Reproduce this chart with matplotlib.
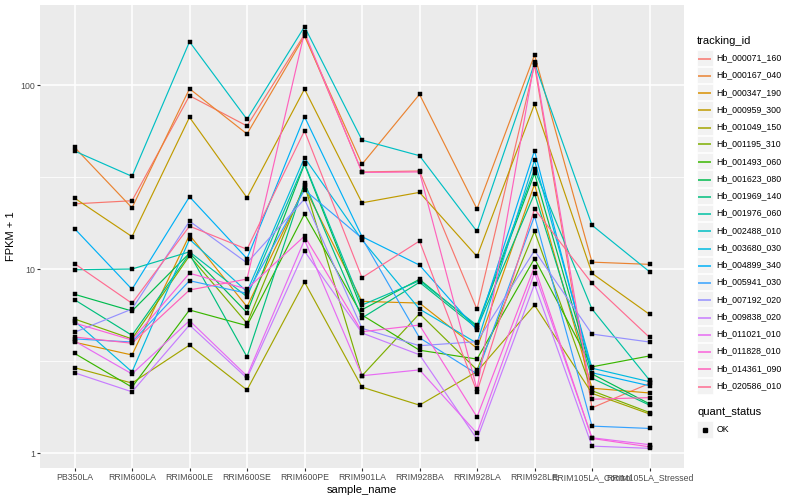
import matplotlib
matplotlib.use("Agg")
import matplotlib.pyplot as plt
from matplotlib.lines import Line2D
from matplotlib.patches import Rectangle
from matplotlib.ticker import FixedLocator, FixedFormatter, NullFormatter
import numpy as np

plt.rcParams['font.family'] = ['Liberation Sans', 'DejaVu Sans']

# samples on the x axis
samples = ['PB350LA', 'RRIM600LA', 'RRIM600LE', 'RRIM600SE', 'RRIM600PE',
           'RRIM901LA', 'RRIM928BA', 'RRIM928LA', 'RRIM928LE',
           'RRIM105LA_Control', 'RRIM105LA_Stressed']

# FPKM + 1 per gene, in sample order
hb_000071_160 = [22.6, 23.5, 87.5, 59.9, 188.6, 33.7, 34.1, 6.04, 128.4, 1.76, 2.39]
hb_000167_040 = [45.9, 21.5, 95.5, 54.2, 184.6, 37.1, 89.0, 21.2, 145.6, 10.9, 10.6]
hb_000347_190 = [4.00, 3.41, 15.3, 6.24, 27.8, 6.67, 6.53, 3.71, 28.9, 2.25, 2.12]
hb_000959_300 = [24.3, 15.0, 66.8, 24.4, 95.1, 22.9, 26.1, 11.7, 78.6, 9.48, 5.67]
hb_001049_150 = [2.91, 2.40, 3.86, 2.20, 8.50, 2.28, 1.82, 2.77, 6.37, 2.11, 1.63]
hb_001195_310 = [5.35, 4.17, 11.8, 5.07, 28.6, 2.63, 5.72, 2.83, 16.0, 2.18, 1.66]
hb_001493_060 = [3.48, 2.28, 5.99, 4.92, 19.9, 5.62, 3.62, 3.24, 11.4, 2.94, 3.37]
hb_001623_080 = [7.29, 5.91, 12.2, 5.79, 37.1, 6.01, 8.79, 4.86, 33.1, 2.69, 1.85]
hb_001969_140 = [6.81, 4.36, 12.1, 3.33, 29.4, 5.42, 8.47, 4.76, 25.7, 2.55, 1.82]
hb_001976_060 = [9.91, 10.0, 12.4, 7.07, 37.5, 6.37, 8.64, 4.94, 34.8, 6.06, 2.49]
hb_002488_010 = [43.8, 31.9, 171.9, 65.1, 207.5, 50.2, 41.3, 16.0, 131.2, 17.3, 9.67]
hb_003680_030 = [5.22, 2.76, 14.5, 7.53, 40.3, 14.4, 6.06, 3.95, 39.0, 2.89, 2.44]
hb_004899_340 = [16.6, 7.76, 24.7, 11.4, 67.3, 15.0, 10.5, 4.66, 44.0, 2.73, 2.32]
hb_005941_030 = [4.17, 4.01, 8.64, 7.38, 26.9, 14.7, 4.23, 2.69, 19.4, 1.40, 1.36]
hb_007192_020 = [4.53, 6.06, 18.2, 10.8, 24.0, 4.76, 3.83, 4.03, 12.6, 4.43, 4.01]
hb_009838_020 = [2.73, 2.15, 4.96, 2.55, 12.5, 4.49, 3.42, 1.19, 8.26, 1.09, 1.06]
hb_011021_010 = [4.06, 2.69, 5.24, 2.62, 14.4, 2.63, 2.83, 1.28, 9.55, 1.21, 1.11]
hb_011828_010 = [5.09, 4.11, 9.48, 7.79, 15.1, 4.56, 4.96, 1.57, 10.3, 1.20, 1.08]
hb_014361_090 = [4.27, 3.95, 7.69, 8.82, 193.4, 33.5, 33.7, 2.22, 133.9, 1.96, 2.00]
hb_020586_010 = [10.7, 6.51, 17.1, 12.8, 56.4, 8.97, 14.2, 2.15, 21.2, 8.36, 4.25]

gene_ids = ['Hb_000071_160', 'Hb_000167_040', 'Hb_000347_190', 'Hb_000959_300',
            'Hb_001049_150', 'Hb_001195_310', 'Hb_001493_060', 'Hb_001623_080',
            'Hb_001969_140', 'Hb_001976_060', 'Hb_002488_010', 'Hb_003680_030',
            'Hb_004899_340', 'Hb_005941_030', 'Hb_007192_020', 'Hb_009838_020',
            'Hb_011021_010', 'Hb_011828_010', 'Hb_014361_090', 'Hb_020586_010']

series = [hb_000071_160, hb_000167_040, hb_000347_190, hb_000959_300,
          hb_001049_150, hb_001195_310, hb_001493_060, hb_001623_080,
          hb_001969_140, hb_001976_060, hb_002488_010, hb_003680_030,
          hb_004899_340, hb_005941_030, hb_007192_020, hb_009838_020,
          hb_011021_010, hb_011828_010, hb_014361_090, hb_020586_010]

# ggplot default hue palette for 20 levels
colors = ['#F8766D', '#EA8331', '#D89000', '#C09B00', '#A3A500', '#7CAE00',
          '#39B600', '#00BB4E', '#00BF7D', '#00C1A3', '#00BFC4', '#00BAE0',
          '#00B0F6', '#35A2FF', '#9590FF', '#C77CFF', '#E76BF3', '#FA62DB',
          '#FF62BC', '#FF6C91']

W, H = 800, 500
fig = plt.figure(figsize=(W / 100, H / 100), dpi=100)
ax = fig.add_axes([40 / W, 1 - 468 / H, 644 / W, 463 / H])
ax.set_facecolor('#EBEBEB')
for s in ax.spines.values():
    s.set_visible(False)

x = np.arange(len(samples))
for vals, c in zip(series, colors):
    ax.plot(x, vals, color=c, lw=0.85, zorder=2)
for vals in series:
    ax.plot(x, vals, 's', color='black', ms=2.2, mec='black', mew=0.3, zorder=3)

ax.set_yscale('log')
ax.set_ylim(10 ** -0.0815, 10 ** 2.435)
ax.set_xlim(-0.6, len(samples) - 0.4)

ax.yaxis.set_major_locator(FixedLocator([1, 10, 100]))
ax.yaxis.set_major_formatter(FixedFormatter(['1', '10', '100']))
ax.yaxis.set_minor_locator(FixedLocator([10 ** 0.5, 10 ** 1.5]))
ax.yaxis.set_minor_formatter(NullFormatter())
ax.set_xticks(x)
ax.set_xticklabels(samples)

ax.grid(which='major', color='white', lw=1.1, zorder=0)
ax.grid(which='minor', axis='y', color='white', lw=0.55, zorder=0)
ax.set_axisbelow(True)
ax.tick_params(which='major', length=2, width=0.8, color='#333333',
               labelsize=6.3, labelcolor='#4D4D4D', pad=1.5)
ax.tick_params(which='minor', length=0)

ax.set_xlabel('sample_name', fontsize=8, labelpad=2)
ax.set_ylabel('FPKM + 1', fontsize=8, labelpad=3)

# legend drawn by hand, ggplot style
def fx(px):
    return px / W

def fy(py):
    return 1 - py / H

fig.text(fx(697), fy(40.7), 'tracking_id', fontsize=8, va='center', ha='left')
step = 17.26
for i, (name, c) in enumerate(zip(gene_ids, colors)):
    yc = 57.7 + i * step
    yl = round(yc) + 0.5
    fig.add_artist(Rectangle((fx(696.5), fy(yc + step / 2 - 0.5)), 16 / W, (step - 1) / H,
                             transform=fig.transFigure, facecolor='#F2F2F2',
                             edgecolor='white', lw=0.5))
    fig.add_artist(Line2D([fx(698), fx(711)], [fy(yl), fy(yl)], color=c, lw=1.1,
                          solid_capstyle='butt', transform=fig.transFigure))
    fig.text(fx(716.7), fy(yc), name, fontsize=6.3, va='center', ha='left')

fig.text(fx(697), fy(411.7), 'quant_status', fontsize=8, va='center', ha='left')
yc = 429.5
fig.add_artist(Rectangle((fx(696.5), fy(yc + step / 2 - 0.5)), 16 / W, (step - 1) / H,
                         transform=fig.transFigure, facecolor='#F2F2F2',
                         edgecolor='white', lw=0.5))
fig.add_artist(Line2D([fx(704.5)], [fy(yc)], marker='s', color='black', ms=2.2,
                      transform=fig.transFigure))
fig.text(fx(716.7), fy(yc), 'OK', fontsize=6.3, va='center', ha='left')

fig.savefig('out.png', dpi=100)
